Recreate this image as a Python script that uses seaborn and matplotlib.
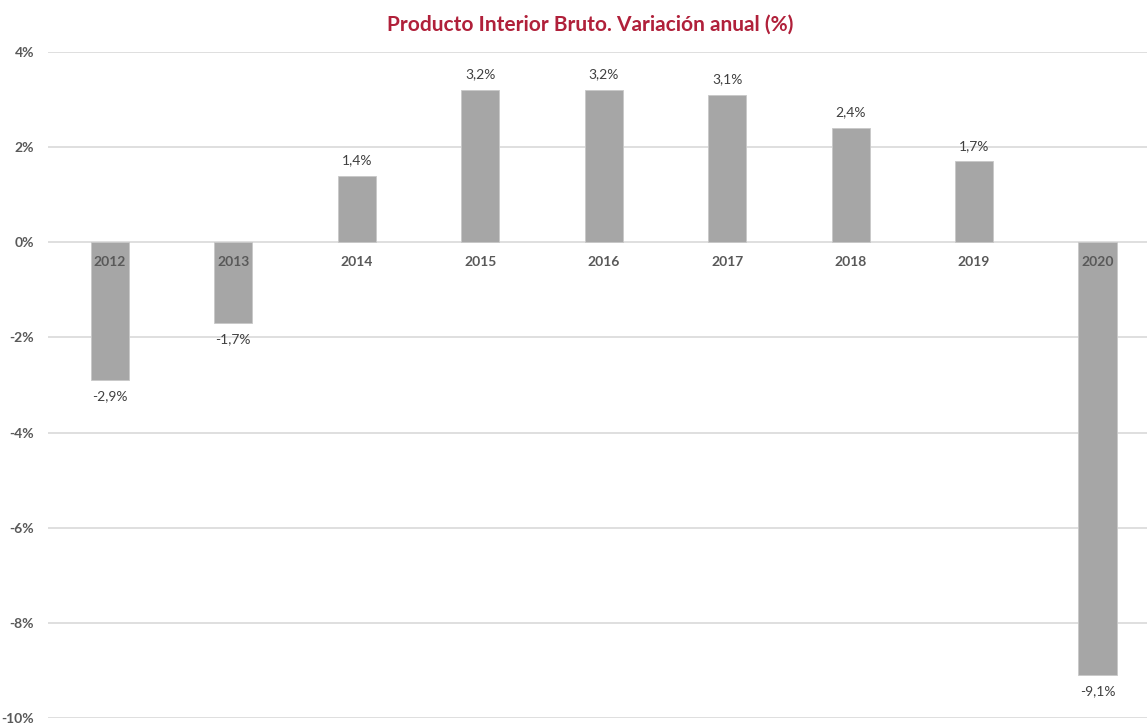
import matplotlib
matplotlib.use("Agg")
import matplotlib.pyplot as plt
import seaborn as sns
import pandas as pd

years = ["2012", "2013", "2014", "2015", "2016", "2017", "2018", "2019", "2020"]
values = [-2.9, -1.7, 1.4, 3.2, 3.2, 3.1, 2.4, 1.7, -9.1]
value_labels = ["-2,9%", "-1,7%", "1,4%", "3,2%", "3,2%", "3,1%", "2,4%", "1,7%", "-9,1%"]
yticks = [-10, -8, -6, -4, -2, 0, 2, 4]
ytick_labels = ["-10%", "-8%", "-6%", "-4%", "-2%", "0%", "2%", "4%"]
title = "Producto Interior Bruto. Variación anual (%)"

sns.set_theme(style="white")
plt.rcParams["font.family"] = ["Lato", "DejaVu Sans"]

df = pd.DataFrame({"year": years, "value": values})

fig = plt.figure(figsize=(11.47, 7.24), dpi=100)
ax = fig.add_axes([48 / 1147, 1 - 718 / 724, 1 - 48 / 1147, (718 - 52) / 724])

sns.barplot(data=df, x="year", y="value", color="#A6A6A6", width=0.31,
            saturation=1, ax=ax, zorder=3, linewidth=0.6, edgecolor="#C8C8C8")

ax.set_xlim(-0.5, 8.4)
ax.set_ylim(-10, 4)
ax.set_yticks(yticks)
ax.set_yticklabels(ytick_labels, fontsize=10, fontweight="bold", color="#595959")
ax.yaxis.grid(True, color="#D9D9D9", linewidth=1.2, zorder=0)
ax.set_axisbelow(True)
ax.tick_params(axis="y", length=0, pad=10)
ax.set_xticks([])
ax.set_xlabel("")
ax.set_ylabel("")
for s in ax.spines.values():
    s.set_visible(False)

for i, (v, lab) in enumerate(zip(values, value_labels)):
    off = 0.33 if v > 0 else -0.33
    ax.text(i, v + off, lab, ha="center", va="center", fontsize=10, color="#404040", zorder=4)
    ax.text(i, -0.42, years[i], ha="center", va="center", fontsize=10,
            fontweight="bold", color="#595959", zorder=4)

fig.text(590 / 1147, 1 - 25 / 724, title, ha="center", va="center", fontsize=15,
         fontweight="bold", color="#B0203A")

fig.savefig("out.png", dpi=100)
